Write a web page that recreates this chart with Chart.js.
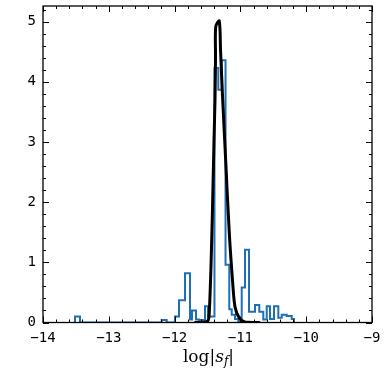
<!DOCTYPE html>
<html><head><meta charset="utf-8">
<script src="https://cdn.jsdelivr.net/npm/chart.js@4"></script>
<style>html,body{margin:0;padding:0;background:#fff}</style>
</head><body>
<canvas id="c" width="387" height="376" style="width:387px;height:376px"></canvas>
<script>
// Histogram (density) bin edges and heights
const histEdges = [-13.514, -13.438, -12.196, -12.120, -11.994, -11.933, -11.842, -11.766, -11.736, -11.675,
  -11.629, -11.538, -11.492, -11.432, -11.394, -11.336, -11.284, -11.226, -11.169, -11.132,
  -11.082, -11.032, -10.980, -10.930, -10.869, -10.778, -10.713, -10.652, -10.600, -10.550,
  -10.489, -10.424, -10.372, -10.296, -10.220, -10.185];
const histDensity = [0.10, 0, 0.04, 0, 0.10, 0.37, 0.82, 0.05, 0.20, 0.05,
  0.04, 0.27, 0.10, 0.10, 4.23, 3.87, 4.36, 0.96, 0.22, 0.13,
  0.06, 0.02, 0.58, 1.21, 0.18, 0.29, 0.18, 0.05, 0.27, 0.06,
  0.27, 0.08, 0.13, 0.11, 0.06];
// Smooth density curve
const kdeX = [-11.70, -11.614, -11.523, -11.488, -11.473, -11.447, -11.421, -11.401, -11.386, -11.378, -11.374,
  -11.321, -11.302, -11.269, -11.219, -11.169, -11.117, -11.082, -11.017, -10.930, -10.778, -10.70];
const kdeY = [0, 0, 0.01, 0.04, 0.16, 0.93, 2.04, 3.04, 3.70, 4.40, 4.92,
  5.01, 4.53, 3.70, 2.59, 1.49, 0.66, 0.26, 0.075, 0.01, 0, 0];
const xTicks = [-14, -13, -12, -11, -10, -9];
const yTicks = [0, 1, 2, 3, 4, 5];
const xRange = [-14, -9];
const yRange = [0, 5.26];

const histPts = [{x: histEdges[0], y: 0}];
for (let i = 0; i < histDensity.length; i++) histPts.push({x: histEdges[i], y: histDensity[i]});
histPts.push({x: histEdges[histEdges.length - 1], y: 0});
const kdePts = kdeX.map((x, i) => ({x, y: kdeY[i]}));

const fmt = v => String(v).replace('-', '\u2212');

const framePlugin = {
  id: 'frame',
  afterDraw(chart) {
    const {ctx, chartArea: a, scales: {x, y}} = chart;
    ctx.save();
    ctx.strokeStyle = '#000';
    ctx.lineWidth = 1.3;
    ctx.strokeRect(a.left, a.top, a.right - a.left, a.bottom - a.top);
    ctx.lineWidth = 1;
    ctx.beginPath();
    const step = 0.2;
    for (let v = xRange[0]; v <= xRange[1] + 1e-9; v += step) {
      const px = Math.round(x.getPixelForValue(v)) + 0.5;
      const major = Math.abs(v - Math.round(v)) < 1e-6;
      const L = major ? 6 : 3;
      ctx.moveTo(px, a.bottom); ctx.lineTo(px, a.bottom - L);
      ctx.moveTo(px, a.top); ctx.lineTo(px, a.top + L);
    }
    for (let v = yRange[0]; v <= yRange[1] + 1e-9; v += step) {
      const py = Math.round(y.getPixelForValue(v)) + 0.5;
      const major = Math.abs(v - Math.round(v)) < 1e-6;
      const L = major ? 6 : 3;
      ctx.moveTo(a.left, py); ctx.lineTo(a.left + L, py);
      ctx.moveTo(a.right, py); ctx.lineTo(a.right - L, py);
    }
    ctx.stroke();
    // x-axis title: log|s_f|
    const cx = (a.left + a.right) / 2 + 1;
    const by = 362;
    const parts = [
      {t: 'log|', f: '17px "DejaVu Serif"', dy: 0},
      {t: 's', f: 'italic 17px "DejaVu Serif"', dy: 0},
      {t: 'f', f: 'italic 12px "DejaVu Serif"', dy: 3},
      {t: '|', f: '17px "DejaVu Serif"', dy: 0}
    ];
    let w = 0;
    parts.forEach(p => { ctx.font = p.f; p.w = ctx.measureText(p.t).width; w += p.w; });
    let xx = cx - w / 2;
    ctx.fillStyle = '#000';
    ctx.textBaseline = 'alphabetic';
    parts.forEach(p => { ctx.font = p.f; ctx.fillText(p.t, xx, by + p.dy); xx += p.w; });
    ctx.restore();
  }
};

new Chart(document.getElementById('c'), {
  type: 'line',
  data: {
    datasets: [
      {data: kdePts, borderColor: '#000', borderWidth: 3, pointRadius: 0, fill: false, tension: 0.3, order: 0},
      {data: histPts, borderColor: '#1f6fb4', borderWidth: 2, pointRadius: 0, fill: false, stepped: 'before', order: 1}
    ]
  },
  options: {
    responsive: false,
    animation: false,
    devicePixelRatio: 1,
    layout: {padding: {top: 6, right: 15, left: 0, bottom: 0}},
    plugins: {legend: {display: false}, tooltip: {enabled: false}},
    scales: {
      x: {
        type: 'linear', min: xRange[0], max: xRange[1],
        grid: {display: false, drawTicks: false}, border: {display: false},
        afterBuildTicks: s => { s.ticks = xTicks.map(v => ({value: v})); },
        ticks: {callback: v => fmt(v), font: {family: 'DejaVu Sans Mono', size: 14}, color: '#000', padding: 7, maxRotation: 0, autoSkip: false},
        afterFit: s => { s.height = 53.5; s.paddingLeft = 0; s.paddingRight = 0; }
      },
      y: {
        type: 'linear', min: yRange[0], max: yRange[1],
        grid: {display: false, drawTicks: false}, border: {display: false},
        afterBuildTicks: s => { s.ticks = yTicks.map(v => ({value: v})); },
        ticks: {callback: v => fmt(v), font: {family: 'DejaVu Sans Mono', size: 14}, color: '#000', padding: 7, autoSkip: false},
        afterFit: s => { s.width = 43; s.paddingTop = 0; s.paddingBottom = 0; }
      }
    }
  },
  plugins: [framePlugin]
});
</script>
</body></html>
